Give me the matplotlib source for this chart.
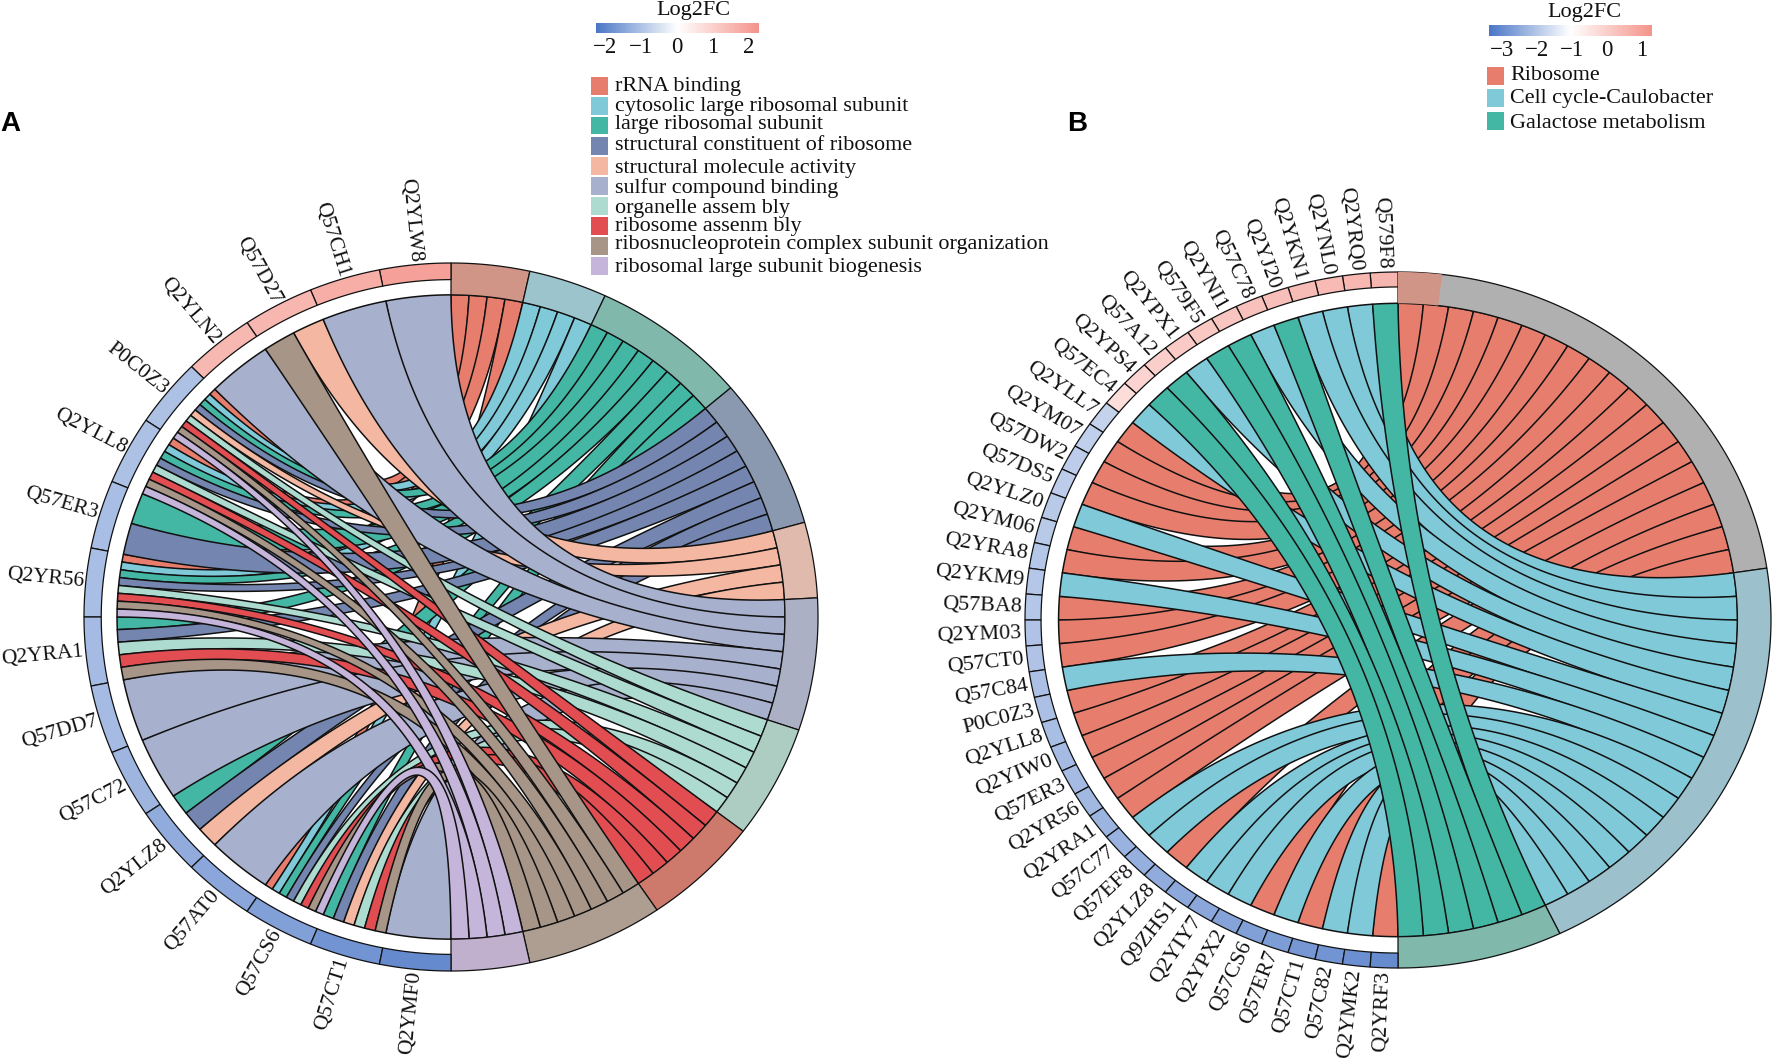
import numpy as np
import matplotlib
matplotlib.use("Agg")
import matplotlib.pyplot as plt
from matplotlib.patches import Rectangle
from matplotlib.colors import LinearSegmentedColormap, Normalize
from matplotlib.cm import ScalarMappable

plt.rcParams['font.family'] = ['Liberation Serif', 'DejaVu Serif']

# ---------- data, panel A ----------
a_terms = ["rRNA binding", "cytosolic large ribosomal subunit", "large ribosomal subunit",
           "structural constituent of ribosome", "structural molecule activity",
           "sulfur compound binding", "organelle assem bly", "ribosome assenm bly",
           "ribosnucleoprotein complex subunit organization",
           "ribosomal large subunit biogenesis"]
a_genes = ["Q2YLW8", "Q57CH1", "Q57D27", "Q2YLN2", "P0C0Z3", "Q2YLL8", "Q57ER3", "Q2YR56",
           "Q2YRA1", "Q57DD7", "Q57C72", "Q2YLZ8", "Q57AT0", "Q57CS6", "Q57CT1", "Q2YMF0"]
a_logfc = [2.0, 1.7, 1.55, 1.5, -1.0, -1.0, -1.05, -1.05,
           -1.1, -1.1, -1.2, -1.35, -1.45, -1.55, -1.75, -1.9]
a_links = [[5], [5], [4, 8], [5],
           [0, 1, 2, 3, 4, 6, 7, 8, 9],
           [0, 1, 2, 3, 6, 7, 8, 9],
           [2, 3],
           [0, 1, 2, 3, 6, 7, 8, 9],
           [2, 3, 6, 7, 8],
           [5], [5],
           [2, 3, 4],
           [5],
           [0, 1, 2, 3, 6, 7, 8, 9],
           [2, 3, 4, 6, 7, 8],
           [5]]
a_term_colors = ["#E77E6D", "#80C9D9", "#44B6A4", "#7486AF", "#F4B7A1",
                 "#A7B0CC", "#ADDBD0", "#E24D52", "#A79587", "#C5B5DB"]
a_ring_colors = ["#D19587", "#9CC4CC", "#80B8AC", "#8A99B0", "#E0BAAD",
                 "#ABB0C4", "#AECDC2", "#CD7A6C", "#AD9E91", "#C0B0CE"]

# ---------- data, panel B ----------
b_terms = ["Ribosome", "Cell cycle-Caulobacter", "Galactose metabolism"]
b_genes = ["Q579F8", "Q2YRQ0", "Q2YNL0", "Q2YKN1", "Q2YJ20", "Q57C78", "Q2YNI1", "Q579F5",
           "Q2YPX1", "Q57A12", "Q2YPS4", "Q57EC4", "Q2YLL7", "Q2YM07", "Q57DW2", "Q57DS5",
           "Q2YLZ0", "Q2YM06", "Q2YRA8", "Q2YKM9", "Q57BA8", "Q2YM03", "Q57CT0", "Q57C84",
           "P0C0Z3", "Q2YLL8", "Q2YIW0", "Q57ER3", "Q2YR56", "Q2YRA1", "Q57C77", "Q57EF8",
           "Q2YLZ8", "Q9ZHS1", "Q2YIY7", "Q2YPX2", "Q57CS6", "Q57ER7", "Q57CT1", "Q57C82",
           "Q2YMK2", "Q2YRF3"]
b_logfc = [0.55, 0.5, 0.45, 0.4, 0.35, 0.3, 0.2, 0.15, 0.1, 0.0, -0.1, -0.3,
           -1.8, -1.85, -1.9, -1.9, -1.95, -1.95, -2.0, -2.0, -2.0, -2.05, -2.05, -2.1,
           -2.1, -2.15, -2.2, -2.2, -2.25, -2.3, -2.35, -2.4, -2.45, -2.5, -2.55, -2.6,
           -2.65, -2.7, -2.8, -2.85, -2.95, -3.0]
b_links = [[2], [1], [1], [1], [2], [1], [2], [2], [1], [2], [2], [1],
           [0], [0], [0], [0], [1], [0], [0], [1], [0], [0], [0], [1],
           [0], [0], [0], [0], [0], [0], [1], [1], [0], [1], [1], [1],
           [0], [1], [0], [1], [1], [0]]
b_term_colors = ["#E77E6D", "#80C9D9", "#44B6A4"]
b_ring_colors = ["#B0B0B0", "#9CC1CC", "#80B8AC"]

a_ticks = [-2, -1, 0, 1, 2]
b_ticks = [-3, -2, -1, 0, 1]
cmap = LinearSegmentedColormap.from_list("fc", ["#4A76C6", "#FFFFFF", "#F4938A"])

W, H = 1772, 1058
fig = plt.figure(figsize=(W / 100, H / 100), dpi=100, facecolor="white")
EDGE = "#111111"


def px_axes(x0, y0, x1, y1):
    return fig.add_axes([x0 / W, 1 - y1 / H, (x1 - x0) / W, (y1 - y0) / H])


def arc(side, r, a0, a1):
    t = np.radians(np.linspace(a0, a1, max(3, int(abs(a1 - a0) * 3))))
    return np.column_stack([side * np.sin(t) * r, np.cos(t) * r])


def sector(ax, side, r0, r1, a0, a1, fc, lw=1.0, ec=EDGE, z=5):
    v = np.vstack([arc(side, r1, a0, a1), arc(side, r0, a1, a0)])
    ax.fill(v[:, 0], v[:, 1], facecolor=fc, edgecolor=ec, lw=lw, zorder=z, clip_on=False)


def ribbon_outline(ga, ta):
    """Outline of one ribbon: curved centre line through the hub, width narrowing mid-way."""
    p0, p2 = (ga[0] + ga[-1]) / 2, (ta[0] + ta[-1]) / 2
    wg = np.linalg.norm(ga[0] - ga[-1])
    wt = np.linalg.norm(ta[0] - ta[-1])
    s = np.linspace(0, 1, 90)[:, None]
    centre = (1 - s) ** 2 * p0 + s ** 2 * p2
    d = 2 * (s - 1) * p0 + 2 * s * p2
    d /= np.maximum(np.linalg.norm(d, axis=1, keepdims=True), 1e-9)
    n = np.column_stack([-d[:, 1], d[:, 0]])
    wm = 0.4 * min(wg, wt)
    w = ((1 - s) ** 2 * wg + s ** 2 * wt + 2 * s * (1 - s) * wm) / 2
    upper = centre + n * w
    lower = centre - n * w
    upper[0], lower[0], upper[-1], lower[-1] = ga[0], ga[-1], ta[0], ta[-1]
    return np.vstack([ga, lower[1:-1], ta[::-1], upper[-2:0:-1]])


def chord(cx, cy, rx, ry, genes, logfc, links, term_colors, ring_colors, norm, fs,
          r_ribbon, r_gene, label_r):
    ax = px_axes(cx - rx, cy - ry, cx + rx, cy + ry)
    ax.set_xlim(-1, 1)
    ax.set_ylim(-1, 1)
    ax.axis("off")
    n = len(genes)
    total = sum(len(l) for l in links)
    gstep = 180 / n
    tstep = 180 / total
    counts = [sum(t in l for l in links) for t in range(len(term_colors))]
    starts = np.concatenate([[0], np.cumsum(counts)]) * tstep
    used = [0] * len(term_colors)
    ribbons = []
    for g, l in enumerate(links):
        w = gstep / len(l)
        for k, t in enumerate(l):
            g0 = g * gstep + k * w
            t0 = starts[t] + used[t] * tstep
            used[t] += 1
            ribbons.append((t, g, g0, g0 + w, t0, t0 + tstep))
    for idx, (t, g, g0, g1, t0, t1) in enumerate(sorted(ribbons, key=lambda q: (q[0], q[1]))):
        v = ribbon_outline(arc(-1, r_ribbon, g0, g1), arc(1, r_ribbon, t0, t1))
        ax.fill(v[:, 0], v[:, 1], facecolor=term_colors[t], edgecolor=EDGE, lw=1.1,
                zorder=2 + idx * 0.001, clip_on=False, joinstyle="round")
    for i in range(len(term_colors)):
        sector(ax, 1, r_ribbon, 1.0, starts[i], starts[i + 1], ring_colors[i], lw=0.9)
    for g, name in enumerate(genes):
        a0, a1 = g * gstep, (g + 1) * gstep
        sector(ax, -1, r_gene, 1.0, a0, a1, cmap(norm(logfc[g])), lw=0.9)
        mid = np.radians((a0 + a1) / 2)
        rot = np.degrees(np.arctan2(-np.cos(mid) * ry, np.sin(mid) * rx))
        ax.text(-np.sin(mid) * label_r, np.cos(mid) * label_r, name, fontsize=fs,
                rotation=rot, rotation_mode="anchor", ha="right", va="center",
                color="#111111", zorder=8, clip_on=False)
    return ax


norm_a = Normalize(-2.25, 2.28)
norm_b = Normalize(-3.37, 1.29)

chord(451, 617, 367, 354, a_genes, a_logfc, a_links, a_term_colors, a_ring_colors, norm_a,
      15.5, 0.91, 0.953, 1.006)
ax_b = chord(1398, 620, 373, 348, b_genes, b_logfc, b_links, b_term_colors, b_ring_colors, norm_b,
             15.8, 0.91, 0.957, 1.01)
# pale start of the ribosome band in panel B
sector(ax_b, 1, 0.91, 1.0, 0, 6.8, "#D19587", lw=0.9, ec="none", z=6)


def colorbar(x0, x1, y0, y1, norm, ticks, title, tx, ty, tick_pad):
    cax = px_axes(x0, y0, x1, y1)
    cb = fig.colorbar(ScalarMappable(norm=norm, cmap=cmap), cax=cax, orientation="horizontal")
    cb.outline.set_visible(False)
    cb.set_ticks(ticks)
    cb.ax.tick_params(length=0, labelsize=16.5, pad=tick_pad, colors="#111111")
    fig.text(tx / W, 1 - ty / H, title, fontsize=16, ha="center", va="center", color="#111111")


colorbar(596, 759, 23, 33, norm_a, a_ticks, "Log2FC", 693, 10, 3)
colorbar(1489, 1652, 25, 36, norm_b, b_ticks, "Log2FC", 1584, 13, 3)


def legend(labels, colors, x_sq, x_txt, ys_sq, ys_txt):
    for lab, c, ys, yt in zip(labels, colors, ys_sq, ys_txt):
        fig.patches.append(Rectangle((x_sq / W, 1 - (ys + 8.5) / H), 17 / W, 17 / H,
                                     transform=fig.transFigure, facecolor=c, edgecolor="none"))
        fig.text(x_txt / W, 1 - yt / H, lab, fontsize=15.9, ha="left", va="center", color="#111111")


legend(a_terms, a_term_colors, 591, 615,
       [86, 106, 126, 146, 166, 186, 206, 226, 246, 266],
       [86, 107, 125, 145, 168, 188, 208, 226, 245, 267])
legend(b_terms, b_term_colors, 1487, 1510, [76, 98, 121], [76, 99, 124])

for s, x, y in [("A", 10, 124), ("B", 1077, 124)]:
    fig.text(x / W, 1 - y / H, s, fontsize=20, fontweight="bold", family="Liberation Sans",
             ha="center", va="center", color="black")

fig.savefig("out.png", dpi=100, facecolor="white")
